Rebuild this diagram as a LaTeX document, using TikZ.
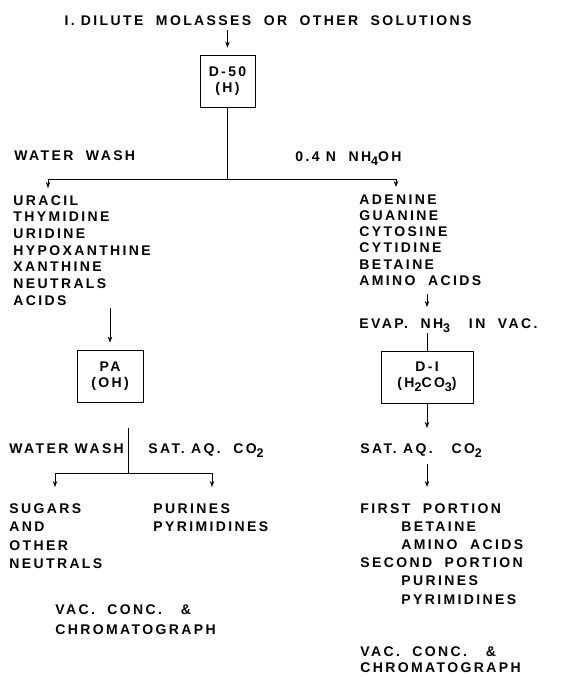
\documentclass[tikz,border=0pt]{standalone}
\usepackage{fontspec}
\setmainfont{Liberation Sans}[LetterSpace=17]
\usetikzlibrary{arrows.meta}
\newcommand{\dn}[1]{\raisebox{-4.5pt}{\fontsize{12.5}{12}\selectfont #1}}
\newcommand{\ind}{\hspace*{41pt}}
\tikzset{
	lbl/.style={anchor=north west, inner sep=0pt, align=left, font=\fontsize{14}{#1}\selectfont\bfseries},
	lbl/.default=16.7,
	resin/.style={draw, minimum height=52pt, align=center, inner sep=0pt, font=\fontsize{14}{16}\selectfont\bfseries},
	flow/.style={-{Stealth[length=6pt, width=4.5pt]}}
}
\begin{document}
\begin{tikzpicture}[x=1pt, y=-1pt, line width=0.8pt]
	\useasboundingbox (0,0) rectangle (564,677);
	
	\node[lbl, anchor=north] (title) at (268,15) {I. DILUTE\ \ MOLASSES\ \ OR\ \ OTHER\ \ SOLUTIONS};
	\node[resin, minimum width=55pt] (d50) at (227.5,81) {D-50\\(H)};
	\draw[flow, shorten <=4pt, shorten >=7pt] (title.south -| d50) -- (d50);
	
	\node[lbl] (wash1) at (14,150) {WATER\ \ WASH};
	\node[lbl] (nh4oh) at (295,151) {0.4\ N\ \ NH\dn{4}OH};
	\node[lbl=16.7] (leftlist) at (13,195) {URACIL\\THYMIDINE\\URIDINE\\HYPOXANTHINE\\XANTHINE\\NEUTRALS\\ACIDS};
	\node[lbl=16.3] (rightlist) at (359,194) {ADENINE\\GUANINE\\CYTOSINE\\CYTIDINE\\BETAINE\\AMINO\ \ ACIDS};
	
	\coordinate (split) at (227.5,179);
	\coordinate (lsplit) at (48,179);
	\coordinate (rsplit) at (396,179);
	\draw (d50) -- (split);
	\draw[flow, shorten >=7pt] (split) -- (lsplit) -- (lsplit |- leftlist.north);
	\draw[flow, shorten >=7pt] (split) -- (rsplit) -- (rsplit |- rightlist.north);
	
	% left branch
	\node[resin, minimum width=66pt] (pa) at (110,376) {PA\\(OH)};
	\draw[flow, shorten <=2pt, shorten >=7pt] (leftlist.south -| pa) -- (pa);
	
	\node[lbl] (wash2) at (9,443) {WATER\ WASH};
	\node[lbl] (co2a) at (148,443) {SAT.\ AQ.\ \ CO\dn{2}};
	\coordinate (wtop) at (128,428);
	\coordinate (split2) at (128,473);
	\coordinate (lsplit2) at (55,473);
	\coordinate (rsplit2) at (212,473);
	\node[lbl=18.6] (sugars) at (9,503) {SUGARS\\AND\\OTHER\\NEUTRALS};
	\node[lbl=18.6] (purines) at (153,503) {PURINES\\PYRIMIDINES};
	\draw (wtop) -- (split2);
	\draw[flow, shorten >=16pt] (split2) -- (lsplit2) -- (lsplit2 |- sugars.north);
	\draw[flow, shorten >=16pt] (split2) -- (rsplit2) -- (rsplit2 |- purines.north);
	\node[lbl=20] (conc1) at (55,604) {VAC.\ \ CONC.\ \ \ \&\\CHROMATOGRAPH};
	
	% right branch
	\node[lbl] (evap) at (359,318) {EVAP.\ \ NH\dn{3}\ \ \ IN\ \ VAC.};
	\node[resin, minimum width=92pt] (d1) at (427,377) {D-I\\(H\dn{2}CO\dn{3})};
	\draw[flow, shorten <=8pt, shorten >=11pt] (rightlist.south -| d1) -- (evap.north -| d1);
	\draw (evap.south -| d1) -- (d1);
	
	\node[lbl] (co2b) at (360,443) {SAT.\ AQ.\ \ \ CO\dn{2}};
	\node[lbl=18.2] (portions) at (360,503) {FIRST\ \ PORTION\\\ind BETAINE\\\ind AMINO\ \ ACIDS\\SECOND\ \ PORTION\\\ind PURINES\\\ind PYRIMIDINES};
	\draw[flow, shorten >=15pt] (d1) -- (co2b.north -| d1);
	\draw[flow, shorten <=6pt, shorten >=16pt] (co2b.south -| d1) -- (portions.north -| d1);
	\node[lbl=16] (conc2) at (360,646) {VAC.\ \ CONC.\ \ \ \&\\CHROMATOGRAPH};
\end{tikzpicture}
\end{document}
